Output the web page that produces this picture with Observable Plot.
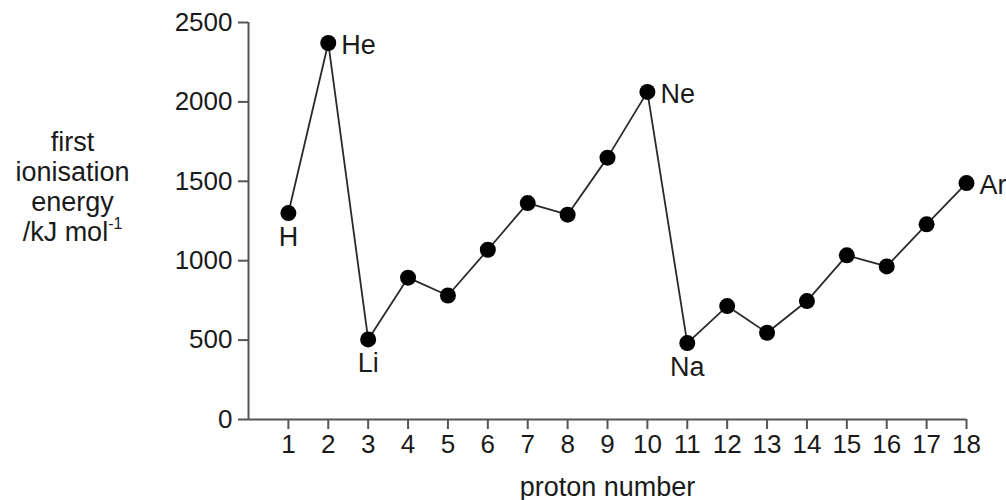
<!DOCTYPE html>
<html>
<head>
<meta charset="utf-8">
<script src="https://cdn.jsdelivr.net/npm/d3@7"></script>
<script src="https://cdn.jsdelivr.net/npm/@observablehq/plot@0.6"></script>
<style>
  html, body { margin: 0; padding: 0; background: #fff; }
  #wrap { position: relative; width: 1006px; height: 500px; font-family: "Liberation Sans", Arial, Helvetica, sans-serif; }
  #ylabel { position: absolute; left: 0; width: 145px; top: 127px; text-align: center; font-size: 27px; line-height: 30px; color: #1a1a1a; }
  #ylabel sup { font-size: 16px; line-height: 0; position: relative; top: -2px; vertical-align: super; }
</style>
</head>
<body>
<div id="wrap">
  <div id="ylabel">first<br>ionisation<br>energy<br>/kJ mol<sup>-1</sup></div>
  <div id="chart"></div>
</div>
<script>
// proton numbers 1..18
const protonNumbers = [1,2,3,4,5,6,7,8,9,10,11,12,13,14,15,16,17,18];
// first ionisation energy, kJ/mol
const energies = [1300,2371,504,893,781,1069,1363,1290,1649,2063,481,714,546,746,1034,964,1229,1489];
// labelled elements
const labelProtons = [1,2,3,10,11,18];
const labelSymbols = ["H","He","Li","Ne","Na","Ar"];
// axis ticks
const xTicks = [1,2,3,4,5,6,7,8,9,10,11,12,13,14,15,16,17,18];
const yTicks = [0,500,1000,1500,2000,2500];
const xLabel = "proton number";

const data = protonNumbers.map((p, i) => ({p, e: energies[i]}));
const labels = labelProtons.map((p, i) => {
  const idx = protonNumbers.indexOf(p);
  const e = energies[idx];
  const prev = idx > 0 ? energies[idx - 1] : Infinity;
  const next = idx < energies.length - 1 ? energies[idx + 1] : Infinity;
  const isMin = e < prev && e < next;
  return {p, e, sym: labelSymbols[i], below: isMin};
});

const font = "Liberation Sans, Arial, Helvetica, sans-serif";
const chart = Plot.plot({
  width: 1006,
  height: 500,
  marginLeft: 248,
  marginRight: 40,
  marginTop: 22,
  marginBottom: 81,
  style: {fontFamily: font, fontSize: "26px", color: "#1a1a1a", background: "#fff"},
  x: {domain: [0, 18]},
  y: {domain: [0, 2500]},
  marks: [
    Plot.axisX({ticks: xTicks, tickSize: 10, tickPadding: 5, stroke: "#555", strokeWidth: 2, fontSize: 26, label: null, tickFormat: d3.format("d")}),
    Plot.axisY({ticks: yTicks, tickSize: 10, tickPadding: 6, stroke: "#555", strokeWidth: 2, fontSize: 26, label: null, tickFormat: d3.format("d")}),
    Plot.ruleY([0], {stroke: "#555", strokeWidth: 2}),
    Plot.ruleX([0], {stroke: "#555", strokeWidth: 2}),
    Plot.text([xLabel], {frameAnchor: "bottom", dy: 76, fontSize: 27, fill: "#1a1a1a", lineAnchor: "bottom"}),
    Plot.line(data, {x: "p", y: "e", stroke: "#2a2a2a", strokeWidth: 1.8}),
    Plot.dot(data, {x: "p", y: "e", r: 8, fill: "#000", stroke: "none"}),
    Plot.text(labels.filter(d => d.below), {x: "p", y: "e", text: "sym", dy: 24, fontSize: 27, fill: "#1a1a1a"}),
    Plot.text(labels.filter(d => !d.below), {x: "p", y: "e", text: "sym", dx: 13, dy: 2, textAnchor: "start", fontSize: 27, fill: "#1a1a1a"})
  ]
});
document.getElementById("chart").appendChild(chart);
</script>
</body>
</html>
